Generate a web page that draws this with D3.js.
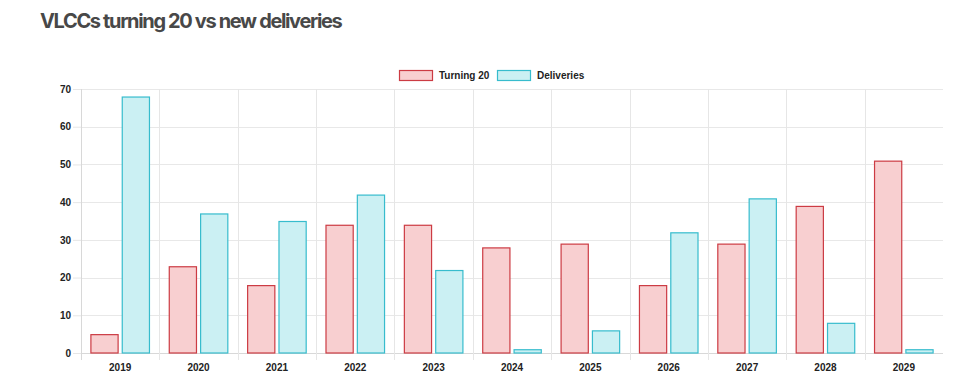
<!DOCTYPE html>
<html>
<head>
<meta charset="utf-8">
<script src="https://cdn.jsdelivr.net/npm/d3@7"></script>
<style>
  body { margin: 0; background: #fff; }
  svg { display: block; }
  .title { font-family: Inter, "Open Sans", sans-serif; font-weight: 700; font-size: 20px; fill: #484848; letter-spacing: -1.35px; }
  .tick text, .legend text { font-family: "Liberation Sans", Arial, sans-serif; font-weight: 700; font-size: 10px; fill: #222; }
</style>
</head>
<body>
<div id="chart"></div>
<script>
// data
const years = ["2019", "2020", "2021", "2022", "2023", "2024", "2025", "2026", "2027", "2028", "2029"];
const turning20 = [5, 23, 18, 34, 34, 28, 29, 18, 29, 39, 51];
const deliveries = [68, 37, 35, 42, 22, 1, 6, 32, 41, 8, 1];
const yTicks = [0, 10, 20, 30, 40, 50, 60, 70];
const seriesNames = ["Turning 20", "Deliveries"];

const W = 975, H = 382;
const margin = {top: 89, right: 32, bottom: 29, left: 81};
const width = W - margin.left - margin.right,
    height = H - margin.top - margin.bottom;

const colors = {
    "Turning 20": {fill: "#f8cfd0", stroke: "#cc3b43"},
    "Deliveries": {fill: "#cbf0f3", stroke: "#37bccd"}
};

const svg = d3.select("#chart").append("svg")
    .attr("width", W)
    .attr("height", H);

svg.append("text")
    .classed("title", true)
    .attr("x", 40)
    .attr("y", 28)
    .text("VLCCs turning 20 vs new deliveries");

const g = svg.append("g")
    .attr("transform", "translate(" + margin.left + "," + margin.top + ")");

const x = d3.scaleBand()
    .domain(years)
    .range([0, width]);
// chart.js-ish: categoryPercentage 0.8, barPercentage 0.9
const xInner = d3.scaleBand()
    .domain(seriesNames)
    .range([x.bandwidth() * 0.1, x.bandwidth() * 0.9])
    .paddingInner(0.1)
    .paddingOuter(0.05);

const y = d3.scaleLinear()
    .domain([0, 70])
    .range([height, 0]);

// horizontal grid + y axis
const yAxis = g.append("g")
    .call(d3.axisLeft(y).tickValues(yTicks).tickSize(8).tickPadding(2).tickSizeOuter(0));
yAxis.select(".domain").remove();
yAxis.selectAll(".tick line").attr("stroke", "#e6e6e6");
g.append("g")
    .selectAll("line")
    .data(yTicks)
    .join("line")
    .attr("x1", 0).attr("x2", width)
    .attr("y1", d => Math.round(y(d)) + 0.5).attr("y2", d => Math.round(y(d)) + 0.5)
    .attr("stroke", d => d === 0 ? "#d8d8d8" : "#e8e8e8");

// vertical grid at category boundaries
const bounds = years.map(d => x(d)).concat([width]);
g.append("g")
    .selectAll("line")
    .data(bounds.slice(0, -1))
    .join("line")
    .attr("x1", d => Math.round(d) + 0.5).attr("x2", d => Math.round(d) + 0.5)
    .attr("y1", 0).attr("y2", height + 7)
    .attr("stroke", (d, i) => i === 0 ? "#d8d8d8" : "#e6e6e6");

// x axis labels
const xAxis = g.append("g")
    .attr("transform", "translate(0," + height + ")")
    .call(d3.axisBottom(x).tickSize(0).tickPadding(11));
xAxis.select(".domain").remove();

// bars
const rows = years.map((yr, i) => ({year: yr, values: [
    {name: seriesNames[0], value: turning20[i]},
    {name: seriesNames[1], value: deliveries[i]}
]}));

g.append("g")
    .selectAll("g")
    .data(rows)
    .join("g")
    .attr("transform", d => "translate(" + x(d.year) + ",0)")
    .selectAll("rect")
    .data(d => d.values)
    .join("rect")
    .attr("x", d => xInner(d.name) + 0.5)
    .attr("y", d => y(d.value) + 0.5)
    .attr("width", xInner.bandwidth() - 1)
    .attr("height", d => height - y(d.value) - 0.5)
    .attr("fill", d => colors[d.name].fill)
    .attr("stroke", d => colors[d.name].stroke)
    .attr("stroke-width", 1.2);

// legend
const legend = svg.append("g").classed("legend", true);
const legendX = [399, 497];
seriesNames.forEach((name, i) => {
    legend.append("rect")
        .attr("x", legendX[i] + 0.5).attr("y", 70.5)
        .attr("width", 33).attr("height", 10)
        .attr("fill", colors[name].fill)
        .attr("stroke", colors[name].stroke)
        .attr("stroke-width", 1.2);
    legend.append("text")
        .attr("x", legendX[i] + 40).attr("y", 79)
        .text(name);
});
</script>
</body>
</html>
